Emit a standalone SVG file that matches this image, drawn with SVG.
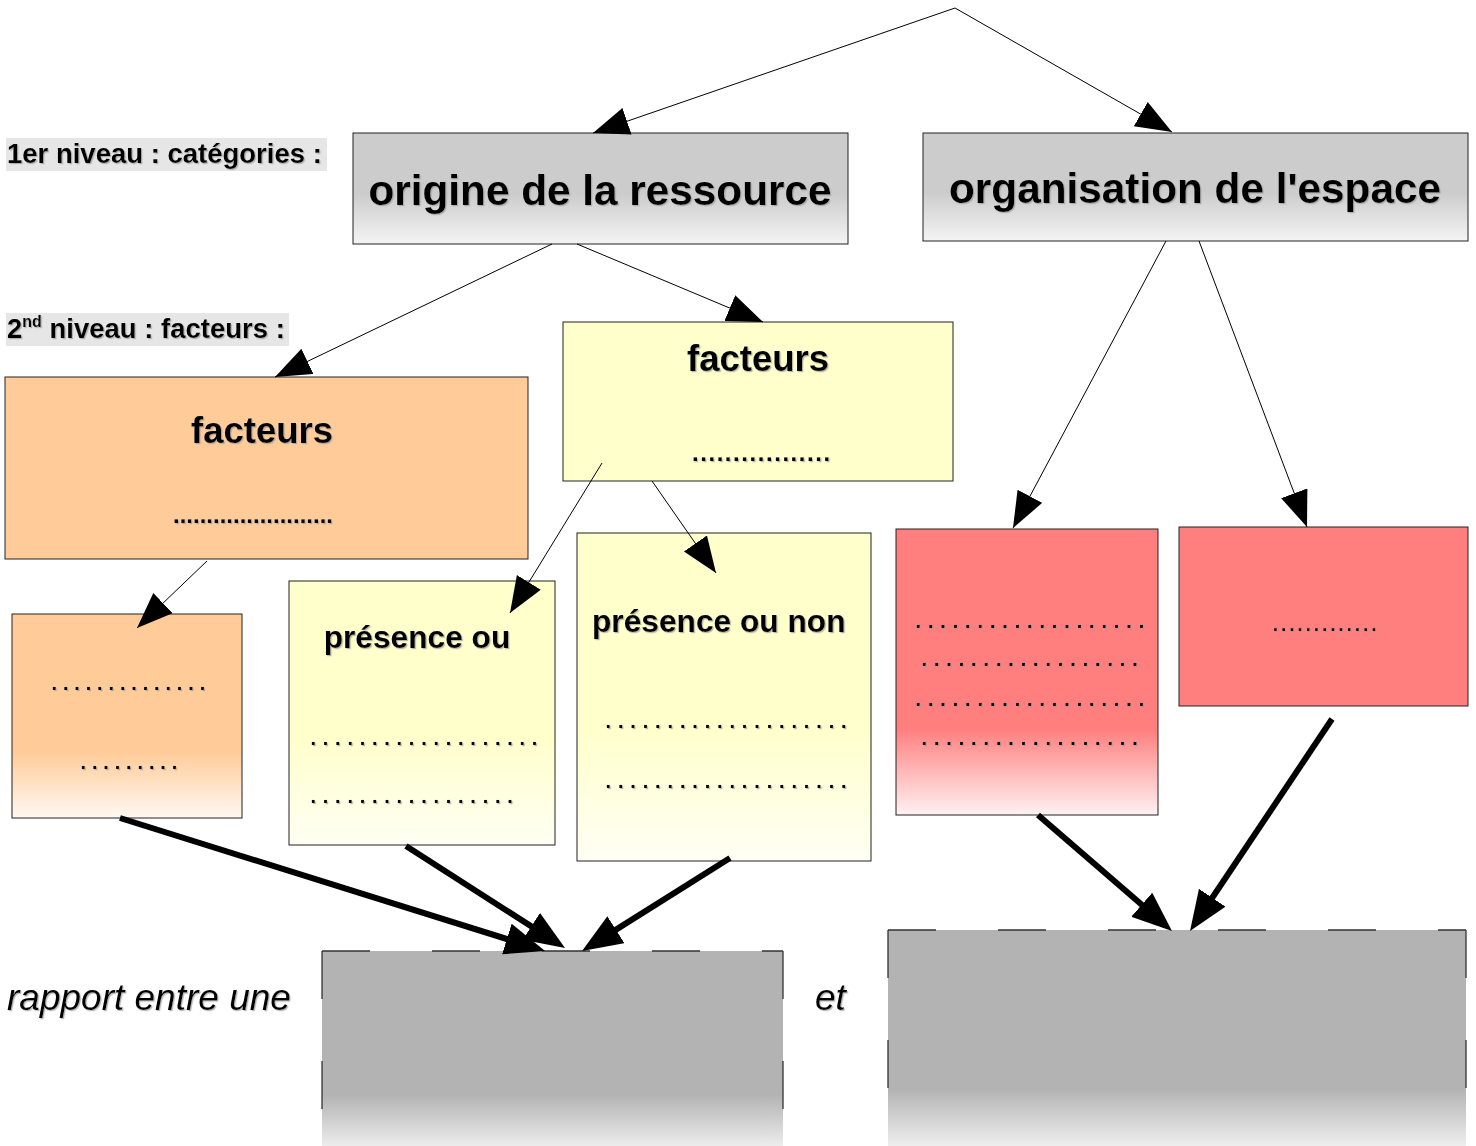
<svg xmlns="http://www.w3.org/2000/svg" width="1476" height="1146" viewBox="0 0 1476 1146">
<style>
  text { font-family: "Liberation Sans", Arial, sans-serif; fill: #000; filter: url(#sh); }
  .b { font-weight: bold; }
  .box { stroke: #222; stroke-width: 1; }
  .thin { stroke: #000; stroke-width: 1; fill: none; marker-end: url(#ah); }
  .thick { stroke: #000; stroke-width: 6; fill: none; marker-end: url(#ahk); }
  .dash { stroke: #333; stroke-width: 1.3; stroke-dasharray: 48 62; }
  .dots { font-size: 20px; font-weight: bold; }
  .lab { fill: #e6e6e6; }
</style>
<defs>
  <filter id="sh" x="-5%" y="-20%" width="110%" height="140%">
    <feDropShadow dx="1.2" dy="1.2" stdDeviation="0.6" flood-color="#999" flood-opacity="0.7"/>
  </filter>
  <linearGradient id="gGray" x1="0" y1="0" x2="0" y2="1">
    <stop offset="0.55" stop-color="#cccccc"/>
    <stop offset="1" stop-color="#f4f4f4"/>
  </linearGradient>
  <linearGradient id="gOr" x1="0" y1="0" x2="0" y2="1">
    <stop offset="0.68" stop-color="#ffcc99"/>
    <stop offset="1" stop-color="#fff8f2"/>
  </linearGradient>
  <linearGradient id="gYe" x1="0" y1="0" x2="0" y2="1">
    <stop offset="0.6" stop-color="#ffffcc"/>
    <stop offset="1" stop-color="#fffff4"/>
  </linearGradient>
  <linearGradient id="gRed" x1="0" y1="0" x2="0" y2="1">
    <stop offset="0.7" stop-color="#ff7f7f"/>
    <stop offset="1" stop-color="#fff2f2"/>
  </linearGradient>
  <linearGradient id="gBig" x1="0" y1="0" x2="0" y2="1">
    <stop offset="0.72" stop-color="#b3b3b3"/>
    <stop offset="1" stop-color="#f2f2f2"/>
  </linearGradient>
  <marker id="ah" markerUnits="userSpaceOnUse" markerWidth="40" markerHeight="32" refX="36" refY="14" orient="auto">
    <path d="M0,0 L36,14 L0,28 z" fill="#000"/>
  </marker>
  <marker id="ahk" markerUnits="userSpaceOnUse" markerWidth="44" markerHeight="36" refX="28" refY="16" orient="auto">
    <path d="M0,0 L40,16 L0,32 z" fill="#000"/>
  </marker>
</defs>
<rect width="1476" height="1146" fill="#fff"/>

<g id="labels">
  <rect class="lab" x="6" y="138" width="321" height="33"/>
  <text class="b" x="7" y="163" font-size="27.5">1er niveau : catégories :</text>
  <rect class="lab" x="6" y="313" width="283" height="33"/>
  <text class="b" x="7" y="338" font-size="27.5">2<tspan font-size="16" dy="-11">nd</tspan><tspan dy="11"> niveau : facteurs :</tspan></text>
  <text x="7" y="1010" font-size="37" font-style="italic">rapport entre une</text>
  <text x="815" y="1010" font-size="37" font-style="italic">et</text>
</g>

<g id="node-origine">
  <rect class="box" x="353" y="133" width="495" height="111" fill="url(#gGray)"/>
  <text class="b" x="600" y="205" font-size="42.3" text-anchor="middle">origine de la ressource</text>
</g>
<g id="node-organisation">
  <rect class="box" x="923" y="133" width="545" height="108" fill="url(#gGray)"/>
  <text class="b" x="1195" y="203" font-size="42.3" text-anchor="middle">organisation de l'espace</text>
</g>

<g id="node-facteurs-orange">
  <rect class="box" x="5" y="377" width="523" height="182" fill="#ffcc99"/>
  <text class="b" x="262" y="443" font-size="36.5" text-anchor="middle">facteurs</text>
  <text class="b" x="253" y="523" font-size="24" text-anchor="middle">........................</text>
</g>
<g id="node-facteurs-jaune">
  <rect class="box" x="563" y="322" width="390" height="159" fill="#ffffcc"/>
  <text class="b" x="758" y="371" font-size="36.5" text-anchor="middle">facteurs</text>
  <text class="b" x="692" y="461" font-size="24" letter-spacing="1.55">.................</text>
</g>

<g id="node-orange-petit">
  <rect class="box" x="12" y="614" width="230" height="204" fill="url(#gOr)"/>
  <text class="dots" x="51.5" y="690" letter-spacing="5.84">..............</text>
  <text class="dots" x="80.5" y="769" letter-spacing="5.84">.........</text>
</g>
<g id="node-presence-ou">
  <rect class="box" x="289" y="581" width="266" height="264" fill="url(#gYe)"/>
  <text class="b" x="417" y="648" font-size="31.7" text-anchor="middle">présence ou</text>
  <text class="dots" x="310.5" y="745" letter-spacing="6.74">...................</text>
  <text class="dots" x="310.5" y="803" letter-spacing="6.74">.................</text>
</g>
<g id="node-presence-ou-non">
  <rect class="box" x="577" y="533" width="294" height="328" fill="url(#gYe)"/>
  <text class="b" x="592" y="632" font-size="31.7">présence ou non</text>
  <text class="dots" x="605.5" y="728" letter-spacing="6.84">....................</text>
  <text class="dots" x="605.5" y="788" letter-spacing="6.84">....................</text>
</g>

<g id="node-rouge-gauche">
  <rect class="box" x="896" y="529" width="262" height="286" fill="url(#gRed)"/>
  <text class="dots" x="915.5" y="628" letter-spacing="6.84">...................</text>
  <text class="dots" x="921.5" y="666" letter-spacing="6.84">..................</text>
  <text class="dots" x="915.5" y="706" letter-spacing="6.84">...................</text>
  <text class="dots" x="921.5" y="745" letter-spacing="6.84">..................</text>
</g>
<g id="node-rouge-droite">
  <rect class="box" x="1179" y="527" width="289" height="179" fill="#ff7f7f"/>
  <text class="b" x="1273" y="631" font-size="18" letter-spacing="3.2">.............</text>
</g>

<g id="node-gris-gauche">
  <rect x="322" y="951" width="461" height="200" fill="url(#gBig)"/>
  <path class="dash" d="M322,951 H783 M322,951 V1146 M783,951 V1146"/>
</g>
<g id="node-gris-droite">
  <rect x="888" y="930" width="578" height="220" fill="url(#gBig)"/>
  <path class="dash" d="M888,930 H1466 M888,930 V1146 M1466,930 V1146"/>
</g>

<g id="connectors">
  <line class="thin" x1="955" y1="8" x2="593" y2="133"/>
  <line class="thin" x1="955" y1="8" x2="1172" y2="132"/>
  <line class="thin" x1="552" y1="244" x2="275" y2="377"/>
  <line class="thin" x1="577" y1="244" x2="763" y2="322"/>
  <line class="thin" x1="1166" y1="241" x2="1013" y2="528"/>
  <line class="thin" x1="1199" y1="241" x2="1307" y2="527"/>
  <line class="thin" x1="207" y1="561" x2="137" y2="628"/>
  <line class="thin" x1="602" y1="463" x2="510" y2="613"/>
  <line class="thin" x1="652" y1="481" x2="716" y2="573"/>
  <line class="thick" x1="120" y1="818" x2="533.6" y2="947.4"/>
  <line class="thick" x1="406" y1="846" x2="554.9" y2="941.5"/>
  <line class="thick" x1="730" y1="858" x2="592.2" y2="944.6"/>
  <line class="thick" x1="1038" y1="815" x2="1162.9" y2="923.1"/>
  <line class="thick" x1="1332" y1="719" x2="1196.7" y2="921"/>
</g>
</svg>
